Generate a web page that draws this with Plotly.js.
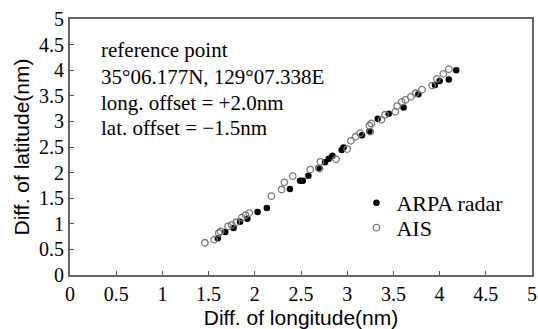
<!DOCTYPE html>
<html>
<head>
<meta charset="utf-8">
<script src="https://cdn.plot.ly/plotly-3.0.1.min.js"></script>
<style>html,body{margin:0;padding:0;background:#fff;}#chart{width:538px;height:329px;}</style>
</head>
<body>
<div id="chart"></div>
<script>
// ARPA radar (filled)
var arpaX = [1.60,1.68,1.77,1.84,1.92,2.03,2.13,2.38,2.49,2.52,2.58,2.69,2.76,2.80,2.84,2.94,2.96,3.16,3.24,3.33,3.45,3.61,3.77,3.95,4.00,4.10,4.18];
var arpaY = [0.72,0.84,0.92,1.04,1.10,1.23,1.31,1.68,1.84,1.84,1.94,2.09,2.20,2.27,2.33,2.44,2.49,2.73,2.81,3.05,3.15,3.27,3.53,3.71,3.79,3.82,4.00];
// AIS (open)
var aisX = [1.46,1.56,1.61,1.63,1.71,1.75,1.80,1.86,1.90,1.94,2.18,2.29,2.32,2.41,2.60,2.70,2.71,2.88,3.00,3.04,3.09,3.14,3.24,3.26,3.25,3.37,3.41,3.52,3.54,3.59,3.63,3.69,3.74,3.81,3.92,3.97,4.04,4.10];
var aisY = [0.63,0.69,0.82,0.85,0.95,0.98,1.03,1.12,1.17,1.21,1.54,1.67,1.81,1.93,2.06,2.08,2.21,2.26,2.46,2.62,2.70,2.77,2.92,2.96,2.80,3.03,3.13,3.19,3.30,3.38,3.42,3.48,3.55,3.62,3.70,3.83,3.93,4.02];
var tickVals = [0,0.5,1,1.5,2,2.5,3,3.5,4,4.5,5];
var tickText = ['0','0.5','1','1.5','2','2.5','3','3.5','4','4.5','5'];
var noteLines = ['reference point','35°06.177N, 129°07.338E','long. offset = +2.0nm','lat. offset = −1.5nm'];
var noteY = [4.39,3.87,3.36,2.87];

var serif = 'Liberation Serif, Times New Roman, serif';
var sans = 'Liberation Sans, Arial, sans-serif';

var traces = [
  {x: arpaX, y: arpaY, type: 'scatter', mode: 'markers', name: 'ARPA radar', legend: 'legend',
   marker: {symbol: 'circle', size: 6.5, color: '#000'}},
  {x: aisX, y: aisY, type: 'scatter', mode: 'markers', name: 'AIS', legend: 'legend2',
   marker: {symbol: 'circle-open', size: 6.5, color: '#777', line: {width: 1.3, color: '#777'}}}
];

function axis(title) {
  return {
    range: [0, 5], tickmode: 'array', tickvals: tickVals, ticktext: tickText,
    ticks: 'inside', ticklen: 4, tickwidth: 1, tickcolor: '#555',
    showline: true, mirror: true, linecolor: '#666', linewidth: 2,
    showgrid: false, zeroline: false, ticklabeloverflow: 'allow',
    tickfont: {family: serif, size: 20, color: '#000'},
    title: {text: title, font: {family: sans, size: 21, color: '#000'}}
  };
}

var xa = axis('Diff. of longitude(nm)');
xa.title.standoff = 6;
var ya = axis('Diff. of latitude(nm)');
ya.title.standoff = 4;

var annotations = noteLines.map(function (t, i) {
  return {x: 0.31, y: noteY[i], xref: 'x', yref: 'y', text: t, showarrow: false,
          xanchor: 'left', yanchor: 'middle', font: {family: serif, size: 21, color: '#000'}};
});

function leg(yc) {
  return {x: 0.62, y: yc, xanchor: 'left', yanchor: 'middle', bgcolor: 'rgba(0,0,0,0)',
          font: {family: serif, size: 22, color: '#000'}, itemwidth: 30};
}

var layout = {
  width: 538, height: 329,
  margin: {l: 70, r: 6, t: 19, b: 54},
  paper_bgcolor: '#fff', plot_bgcolor: '#fff',
  xaxis: xa, yaxis: ya,
  showlegend: true,
  legend: leg(0.281),
  legend2: leg(0.184),
  annotations: annotations
};

Plotly.newPlot('chart', traces, layout, {displayModeBar: false, staticPlot: true});
</script>
</body>
</html>
